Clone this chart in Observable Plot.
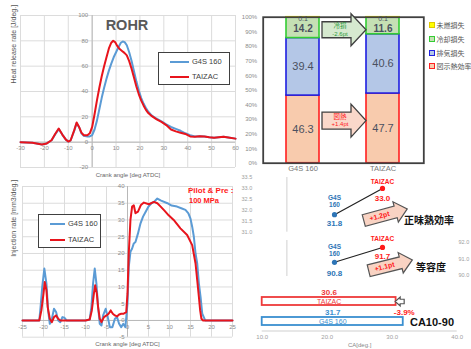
<!DOCTYPE html>
<html><head><meta charset="utf-8">
<script src="https://cdn.jsdelivr.net/npm/d3@7"></script>
<script src="https://cdn.jsdelivr.net/npm/@observablehq/plot@0.6"></script>
<style>
body{margin:0;background:#fff;font-family:"Liberation Sans",Arial,"Noto Sans CJK JP",sans-serif;}
#root{position:relative;width:471px;height:349px;overflow:hidden;background:#fff;}
svg{overflow:visible}
.lbl{position:absolute;white-space:nowrap;line-height:1;}
.c{transform:translate(-50%,-50%);}
.lg{position:absolute;border:1.5px solid #404040;background:#fff;box-sizing:border-box;}
.sw{position:absolute;height:2px;}
.lt{position:absolute;font-size:7.5px;color:#404040;line-height:1;transform:translateY(-50%);}
.bl{position:absolute;font-size:7px;color:#555;line-height:1;transform:translateY(-50%);white-space:nowrap;}
.bm{position:absolute;width:4px;height:4px;border:1px solid;transform:translate(-50%,-50%);}
</style></head><body><div id="root"></div>
<script>
// ---------- DATA ----------
const seriesNames = ["G4S 160", "TAIZAC"];

// Rate of heat release [J/deg.]
const rohrAngleG4S = [-30,-25,-21,-19,-17,-15.5,-14,-12.5,-11,-10,-9,-7.5,-6.5,-5.5,-4.5,-3.5,-2,-1,0,1,2,3,4,5,6,7,8,9,10,11,12,12.8,13.6,14.5,15.5,16.5,17.5,18.5,19.5,20.5,21.5,22.5,23.5,25,27,29,31,33,35,37,39,41,43,45,47,49,51,53,55,57,60];
const rohrG4S = [0,-0.5,-1.8,-1,1.5,6,10.3,6,2,0.5,1.5,9,15,12,7,5,4.5,4.5,5.5,10,17,26,35,43,50,56.5,62,67,71,75,78.5,79.5,79,76.5,71,64,56,48,41,35,30.5,27,24,21,18.5,16.5,14,12,10.5,9,7,5.5,4.5,4.6,4.5,3.8,3.4,3.8,4.2,3.6,2.8];
const rohrAngleTaizac = [-30,-25,-21,-19,-17,-15.5,-14,-12.5,-11,-10,-9,-7.5,-6.5,-5.5,-4.5,-3.5,-2,-1,0,1,2,3,4,5,6,7,8,8.8,9.6,10.5,11.5,12.5,13.5,14.5,15.5,16.5,17.5,18.5,19.5,20.5,21.5,22.5,23.5,25,27,29,31,33,35,37,39,41,43,45,47,49,51,53,55,57,60];
const rohrTaizac = [0,-0.5,-1.8,-1,1.5,6.5,10.8,6,2,0.5,1.5,9.5,15.5,12,7.5,5.5,5.5,7,12,22,33,43,52,60,67,74,78.5,80,79,76,73.5,72,70.5,68.5,64,58,51,44,38,33,29,25.5,23,20.5,18,16,13.5,10,8.5,7.5,6.5,4.5,4.3,4.6,4.5,3.8,3.4,3.8,4.2,3.6,2.8];
const rohrXTicks = [-30,-20,-10,0,10,20,30,40,50,60];
const rohrYTicks = [-20,0,20,40,60,80,100];

// Injection rate [mm3/deg.]
const injAngleG4S = [-25,-21,-20.7,-20.3,-19.8,-19.3,-18.9,-18.5,-18,-17.5,-17,-16.5,-16,-15.5,-15,-14.5,-14,-12,-10,-9,-8.6,-8.2,-7.8,-7.4,-7,-6.6,-6.2,-5.8,-5.2,-4.7,-4.2,-3.6,-3,-2.5,-2,-1.5,-1,-0.5,0,0.3,0.7,1.1,1.5,1.9,2.5,3.1,3.7,4.3,5,5.7,6.3,7.1,8,9.5,10.5,11.8,12.8,13.8,14.5,15,15.4,15.8,16.2,16.6,17,17.4,17.8,18.5,25];
const injG4S = [0,0,4,10,15.5,11,3,-1,0.5,3.5,2.5,0,-0.5,1,0.8,0,0,0,0,0.3,4,11,15.5,11,4,-1,-1.5,1.5,3.5,1,-2,-2,0.5,1,-1,-2,-1,-2,5,16,20.5,21.5,23,23.4,26,29,31,32.4,34,35,35.4,36.4,35.8,35,34.3,34,33.5,33,32,30.4,28,25,20,17,11,7,2,0,0];
const injAngleTaizac = [-25,-21,-20.5,-20,-19.7,-19.3,-19,-18.5,-18,-17.5,-17,-16.5,-16,-15,-14,-12,-10,-9,-8.5,-8,-7.7,-7.3,-7,-6.6,-6.2,-5.6,-5,-4.5,-4,-3.5,-3,-2.5,-2,-1.5,-1,-0.3,0,0.3,0.7,1.1,1.5,1.9,2.5,3.2,3.9,5.1,6.3,7.1,7.9,8.8,9.8,11,12.6,14.2,15.4,16.2,16.6,17,17.3,17.6,18,25];
const injTaizac = [0,0,3,8,11.5,9,4,0.5,-0.5,1,1.5,0.5,0,0,0,0,0,0.3,3,8,10.5,8,4,0.5,-0.5,1,1.5,2,3,2,1.5,1.2,1.8,2,2,2.5,8,20,30,34,34.4,32,32.5,34.5,35.2,34.7,35.4,35,34,32.8,31.4,30,27.5,25.5,22.5,17,12,7,3,0.5,0,0];
const injXTicks = [-25,-20,-15,-10,-5,0,5,10,15,20,25];
const injYTicks = [-5,0,5,10,15,20,25,30,35,40];

// Energy balance [%]
const barCategories = ["G4S 160", "TAIZAC"];
const barComponents = ["図示熱効率", "排気損失", "冷却損失", "未燃損失"];
const barG4S = [46.3, 39.4, 14.2, 0.1];
const barTaizac = [47.7, 40.6, 11.6, 0.1];
const pctTicks = [0,10,20,30,40,50,60,70,80,90,100];
const barNotes = [
  {y: 91.4, top: "冷損", bottom: "-2.6pt", kind: "cool"},
  {y: 29.2, top: "図熱", bottom: "+1.4pt", kind: "ind"}
];

// Brake thermal efficiency [%]
const effCategories = ["G4S 160", "TAIZAC"];
const effValues = [31.8, 33.0];
const effTicks = [31.0, 31.5, 32.0, 32.5, 33.0, 33.5];
const effNote = "+1.2pt";

// Degree of constant volume [%]
const cvValues = [90.8, 91.7];
const cvTicks = [90, 91, 92];
const cvNote = "+1.1pt";

// CA10-90 [deg.]
const caCategories = ["TAIZAC", "G4S 160"];
const caValues = [30.6, 31.7];
const caTicks = [10, 20, 30, 40];
const caNote = "-3.9%";

// ---------- HELPERS ----------
const FONT = '"Liberation Sans", Arial, "Noto Sans CJK JP", sans-serif';
const root = document.getElementById("root");
const lineColors = ["#5b9bd5", "#e8141c"];
const BLUE = "#2e75b6", RED = "#ff1a1a";
const GRID = "#dcdcdc";
const tickStyle = {fontSize: 6, fill: "#8c8c8c", fontFamily: FONT};
const baseStyle = {fontFamily: FONT, background: "transparent", overflow: "visible"};

function place(el, left, top) {
  el.style.position = "absolute"; el.style.left = left + "px"; el.style.top = top + "px";
  root.appendChild(el);
}
function label(text, x, y, css, center = true) {
  const d = document.createElement("div");
  d.className = "lbl" + (center ? " c" : "");
  d.textContent = text;
  d.style.cssText += css;
  d.style.left = x + "px"; d.style.top = y + "px";
  root.appendChild(d);
  return d;
}
function blockArrow(len, bodyH, headH, headLen, angleDeg = 0, dir = 1) {
  const a = angleDeg * Math.PI / 180, c = Math.cos(a), s = Math.sin(a);
  const pts = [[-len/2,-bodyH/2],[len/2-headLen,-bodyH/2],[len/2-headLen,-headH/2],[len/2,0],
               [len/2-headLen,headH/2],[len/2-headLen,bodyH/2],[-len/2,bodyH/2]];
  return {draw(ctx) {
    pts.forEach(([x, y], i) => {
      x *= dir;
      const X = x * c - y * s, Y = x * s + y * c;
      if (i) ctx.lineTo(X, Y); else ctx.moveTo(X, Y);
    });
    ctx.closePath();
  }};
}
const toRows = (name, xs, ys) => xs.map((a, i) => ({series: name, angle: a, value: ys[i]}));

// ---------- ROHR ----------
const rohrData = [...toRows(seriesNames[0], rohrAngleG4S, rohrG4S), ...toRows(seriesNames[1], rohrAngleTaizac, rohrTaizac)];
place(Plot.plot({
  width: 240, height: 180, marginLeft: 20, marginRight: 5, marginTop: 15, marginBottom: 13,
  style: baseStyle,
  x: {domain: [-30, 60], axis: null}, y: {domain: [-20, 100], axis: null},
  color: {domain: seriesNames, range: lineColors},
  marks: [
    Plot.ruleX(rohrXTicks, {stroke: GRID}),
    Plot.ruleY(rohrYTicks, {stroke: GRID}),
    Plot.ruleX([0], {stroke: "#b8b8b8"}),
    Plot.ruleY([0], {stroke: "#b8b8b8"}),
    Plot.text(rohrXTicks, {x: d => d, y: 0, dy: 5.5, text: d => String(d), ...tickStyle}),
    Plot.text(rohrYTicks, {x: 0, y: d => d, dx: -4, textAnchor: "end", text: d => String(d), ...tickStyle}),
    Plot.line(rohrData, {x: "angle", y: "value", z: "series", stroke: "series", strokeWidth: 2}),
    Plot.text(["Crank angle [deg ATDC]"], {frameAnchor: "bottom", dy: 9, text: d => d, fontSize: 6, fill: "#666"}),
    Plot.text(["Heat release rate [J/deg.]"], {frameAnchor: "left", dx: -7, dy: -8, rotate: -90, text: d => d, fontSize: 7, fill: "#555"})
  ]
}), 0, 0);

// ---------- Injection rate ----------
const injData = [...toRows(seriesNames[0], injAngleG4S, injG4S), ...toRows(seriesNames[1], injAngleTaizac, injTaizac)];
place(Plot.plot({
  width: 240, height: 177, marginLeft: 22, marginRight: 8, marginTop: 14, marginBottom: 12.3,
  style: baseStyle,
  x: {domain: [-25, 25], axis: null}, y: {domain: [-5, 40], axis: null},
  color: {domain: seriesNames, range: lineColors},
  marks: [
    Plot.ruleX(injXTicks, {stroke: GRID}),
    Plot.ruleY(injYTicks, {stroke: GRID}),
    Plot.ruleX([0], {stroke: "#b8b8b8"}),
    Plot.ruleY([0], {stroke: "#b8b8b8"}),
    Plot.text(injXTicks, {x: d => d, y: 0, dy: 6.5, text: d => String(d), ...tickStyle}),
    Plot.text(injYTicks, {x: 0, y: d => d, dx: -3, textAnchor: "end", text: d => String(d), ...tickStyle}),
    Plot.line(injData, {x: "angle", y: "value", z: "series", stroke: "series", strokeWidth: 2}),
    Plot.text(["Crank angle [deg ATDC]"], {frameAnchor: "bottom", dy: 8.5, text: d => d, fontSize: 6, fill: "#666"}),
    Plot.text(["Injection rate [mm3/deg.]"], {frameAnchor: "left", dx: -9, dy: -5, rotate: -90, text: d => d, fontSize: 7, fill: "#555"})
  ]
}), 0, 172);

// ---------- Energy balance stacked bars ----------
const compFill = {"図示熱効率": "#f8cbad", "排気損失": "#b4c7e7", "冷却損失": "#c5e0b4", "未燃損失": "#ffff00"};
const compStroke = {"図示熱効率": "#ff2020", "排気損失": "#1f1fe0", "冷却損失": "#33cc33", "未燃損失": "#f2e600"};
const barTable = [];
barCategories.forEach((c, ci) => {
  let acc = 0;
  barComponents.forEach((k, ki) => {
    const v = (ci ? barTaizac : barG4S)[ki];
    barTable.push({cat: c, comp: k, value: v, mid: acc + v / 2});
    acc += v;
  });
});
const mainLabels = barTable.filter(d => d.comp === "図示熱効率" || d.comp === "排気損失");
const coolLabels = barTable.filter(d => d.comp === "冷却損失");
const topLabels = barTable.filter(d => d.comp === "未燃損失");
place(Plot.plot({
  width: 231, height: 178, marginLeft: 22.7, marginRight: 47.7, marginTop: 16.7, marginBottom: 15.3,
  style: baseStyle,
  x: {type: "band", domain: barCategories, paddingInner: 0.585, paddingOuter: 0.29, axis: null},
  y: {domain: [0, 100], axis: null},
  color: {type: "identity"},
  marks: [
    Plot.barY(barTable, {x: "cat", y: "value", z: "comp", fill: d => compFill[d.comp], stroke: d => compStroke[d.comp], strokeWidth: 1.6}),
    Plot.frame({stroke: "#404040", strokeWidth: 1.8}),
    Plot.text(pctTicks, {frameAnchor: "left", y: d => d, dx: -6, textAnchor: "end", text: d => d + "%", fontSize: 6, fill: "#8c8c8c"}),
    Plot.text(barCategories, {x: d => d, frameAnchor: "bottom", dy: 7.5, text: d => d, fontSize: 7.5, fill: "#777"}),
    Plot.text(mainLabels, {x: "cat", y: "mid", text: d => d.value.toFixed(1),
      fontSize: 11, fontWeight: d => d.comp === "排気損失" ? "normal" : "bold", fill: "#4a5060"}),
    Plot.text(coolLabels, {x: "cat", y: () => 100, dy: 11.6, text: d => d.value.toFixed(1), fontSize: 10, fontWeight: "bold", fill: "#4a5060"}),
    Plot.text(topLabels, {x: "cat", y: "mid", dy: 1, text: d => d.value.toFixed(1), fontSize: 7, fill: "#4a5060"}),
    Plot.dot(barNotes.filter(d => d.kind === "cool"), {x: () => barCategories[0], y: "y", dx: 41, symbol: blockArrow(44, 16, 32, 15), fill: "#d6e9cf", stroke: "#404040", strokeWidth: 1.3}),
    Plot.dot(barNotes.filter(d => d.kind === "ind"), {x: () => barCategories[0], y: "y", dx: 41, symbol: blockArrow(44, 17, 33, 15), fill: "#fad8ca", stroke: "#404040", strokeWidth: 1.3}),
    Plot.text(barNotes, {x: () => barCategories[0], y: "y", dx: 37, dy: -4, text: "top", fontSize: 6.5, fill: d => d.kind === "cool" ? "#2a9a3a" : RED}),
    Plot.text(barNotes, {x: () => barCategories[0], y: "y", dx: 37, dy: 4, text: "bottom", fontSize: 6, fill: d => d.kind === "cool" ? "#2a9a3a" : RED})
  ]
}), 240, 0);

// ---------- Brake thermal efficiency ----------
const effData = effCategories.map((c, i) => ({cat: c, value: effValues[i], color: i ? RED : BLUE}));
const ptStyle = {x: "cat", y: "value", fontWeight: "bold"};
place(Plot.plot({
  width: 231, height: 62, marginLeft: 21.7, marginRight: 0, marginTop: 5, marginBottom: 2.3,
  style: baseStyle,
  x: {type: "point", domain: effCategories, range: [69.3, 166], axis: null},
  y: {domain: [31, 33.5], range: [59.7, 5], axis: null},
  color: {type: "identity"},
  marks: [
    Plot.ruleX([effCategories[0]], {dx: -47.6, stroke: "#d0d0d0"}),
    Plot.text(effTicks, {frameAnchor: "left", y: d => d, dx: -10, textAnchor: "end", text: d => d.toFixed(1), fontSize: 5.5, fill: "#a0a0a0"}),
    Plot.line(effData, {x: "cat", y: "value", stroke: "#222", strokeWidth: 1.2}),
    Plot.dot(effData, {x: "cat", y: "value", r: 2.6, fill: "color"}),
    Plot.text([effData[0]], {...ptStyle, dy: -17, text: d => d.cat.split(" ")[0], fontSize: 6.5, fill: BLUE}),
    Plot.text([effData[0]], {...ptStyle, dy: -9.5, text: d => d.cat.split(" ")[1], fontSize: 6.5, fill: BLUE}),
    Plot.text([effData[0]], {...ptStyle, dy: 8.5, text: d => d.value.toFixed(1), fontSize: 8, fill: BLUE}),
    Plot.text([effData[1]], {...ptStyle, dy: -7, text: d => d.cat, fontSize: 6.5, fill: RED}),
    Plot.text([effData[1]], {...ptStyle, dy: 10, text: d => d.value.toFixed(1), fontSize: 8, fill: RED}),
    Plot.dot([effData[0]], {x: "cat", y: "value", dx: 51, symbol: blockArrow(45, 12, 21, 12, -15), fill: "#f9d3c3", stroke: "#555", strokeWidth: 1.2}),
    Plot.text([effData[0]], {x: "cat", y: "value", dx: 45, dy: 1.5, rotate: -15, text: () => effNote, fontSize: 7, fontWeight: "bold", fill: RED})
  ]
}), 240, 172);

// ---------- Degree of constant volume ----------
const cvData = effCategories.map((c, i) => ({cat: c, value: cvValues[i], color: i ? RED : BLUE}));
place(Plot.plot({
  width: 231, height: 42, marginLeft: 21.7, marginRight: 9, marginTop: 4, marginBottom: 2,
  style: baseStyle,
  x: {type: "point", domain: effCategories, range: [69.3, 166], axis: null},
  y: {domain: [90, 92], range: [39, 6], axis: null},
  color: {type: "identity"},
  marks: [
    Plot.ruleX([effCategories[0]], {dx: -47.6, stroke: "#d0d0d0"}),
    Plot.text(cvTicks, {frameAnchor: "right", y: d => d, dx: -4, textAnchor: "start", text: d => d.toFixed(1), fontSize: 5.5, fill: "#a0a0a0"}),
    Plot.line(cvData, {x: "cat", y: "value", stroke: "#222", strokeWidth: 1.2}),
    Plot.dot(cvData, {x: "cat", y: "value", r: 2.6, fill: "color"}),
    Plot.text([cvData[0]], {...ptStyle, dy: -15.5, text: d => d.cat.split(" ")[0], fontSize: 6.5, fill: BLUE}),
    Plot.text([cvData[0]], {...ptStyle, dy: -8, text: d => d.cat.split(" ")[1], fontSize: 6.5, fill: BLUE}),
    Plot.text([cvData[0]], {...ptStyle, dy: 11, text: d => d.value.toFixed(1), fontSize: 8, fill: BLUE}),
    Plot.text([cvData[1]], {...ptStyle, dy: -8.5, text: d => d.cat, fontSize: 6.5, fill: RED}),
    Plot.text([cvData[1]], {...ptStyle, dy: 9, text: d => d.value.toFixed(1), fontSize: 8, fill: RED}),
    Plot.dot([cvData[0]], {x: "cat", y: "value", dx: 56, dy: 3, symbol: blockArrow(45, 12, 21, 12, -14), fill: "#f9d3c3", stroke: "#555", strokeWidth: 1.2}),
    Plot.text([cvData[0]], {x: "cat", y: "value", dx: 50, dy: 4.5, rotate: -14, text: () => cvNote, fontSize: 7, fontWeight: "bold", fill: RED})
  ]
}), 240, 236);

// ---------- CA10-90 ----------
const caData = caCategories.map((c, i) => ({cat: c, value: caValues[i], color: i ? "#3a8fd0" : "#ee3a3a"}));
const caMin = caTicks[0], caMax = caTicks[caTicks.length - 1];
place(Plot.plot({
  width: 231, height: 67, marginLeft: 21.7, marginRight: 14.3, marginTop: 4, marginBottom: 19,
  style: baseStyle,
  x: {domain: [caMin, caMax], axis: null},
  y: {type: "band", domain: caCategories, paddingInner: 0.62, paddingOuter: 0.41, align: 0.65, axis: null},
  color: {type: "identity"},
  marks: [
    Plot.ruleY([caCategories[1]], {dy: 9.5, x1: caMin, x2: caMax, stroke: "#cfcfcf"}),
    Plot.text(caTicks, {x: d => d, frameAnchor: "bottom", dy: 8, text: d => d.toFixed(1), fontSize: 6, fill: "#a0a0a0"}),
    Plot.text(["CA[deg.]"], {frameAnchor: "bottom", dy: 16.5, text: d => d, fontSize: 6, fill: "#888"}),
    Plot.barX(caData, {x1: () => caMin, x2: "value", y: "cat", fill: "#fff", stroke: "color", strokeWidth: 1.8}),
    Plot.text(caData, {x: d => (caMin + d.value) / 2, y: "cat", text: "cat", fontSize: 7, fill: "color"}),
    Plot.text(caData, {x: d => (caMin + d.value) / 2, y: "cat", dy: -9.5, text: d => d.value.toFixed(1), fontSize: 8, fontWeight: "bold", fill: "color"}),
    Plot.dot([caData[0]], {x: () => (caValues[0] + caValues[1]) / 2, y: "cat", symbol: blockArrow(9, 4.5, 9, 5, 0, -1), fill: "#fff", stroke: "#555", strokeWidth: 1.2}),
    Plot.text([caData[1]], {x: "value", y: "cat", dy: -8.8, dx: 1, text: () => caNote, fontSize: 8, fontWeight: "bold", fill: RED})
  ]
}), 240, 282);

// ---------- HTML annotations / legends ----------
label("ROHR", 127, 25, "font-size:14.5px;font-weight:bold;color:#595959;");
label("Pilot & Pre :", 188, 191, "font-size:8px;font-weight:bold;color:#ff1a1a;", false).style.transform = "translateY(-50%)";
label("100 MPa", 189, 200.5, "font-size:7.5px;font-weight:bold;color:#ff1a1a;", false).style.transform = "translateY(-50%)";
label("正味熱効率", 429, 220.5, "font-size:10px;font-weight:bold;color:#111;");
label("等容度", 431, 268, "font-size:10px;font-weight:bold;color:#111;");
label("CA10-90", 432, 321.5, "font-size:11px;font-weight:bold;color:#111;");

function lineLegend(left, top, w, h, rows) {
  const box = document.createElement("div");
  box.className = "lg";
  box.style.left = left + "px"; box.style.top = top + "px";
  box.style.width = w + "px"; box.style.height = h + "px";
  rows.forEach(r => {
    const s = document.createElement("div"); s.className = "sw";
    s.style.left = r.sx + "px"; s.style.width = r.sw + "px"; s.style.top = (r.y - 1) + "px"; s.style.background = r.color;
    const t = document.createElement("div"); t.className = "lt";
    t.style.left = r.tx + "px"; t.style.top = r.y + "px"; t.textContent = r.name;
    box.appendChild(s); box.appendChild(t);
  });
  root.appendChild(box);
}
lineLegend(158, 52, 72, 33, seriesNames.map((n, i) => ({name: n, color: lineColors[i], y: i ? 24 : 9, sx: 11, sw: 19, tx: 33})));
lineLegend(38, 214, 63, 34, seriesNames.map((n, i) => ({name: n, color: lineColors[i], y: i ? 25 : 8.5, sx: 11, sw: 15, tx: 29})));

const legendOrder = ["未燃損失", "冷却損失", "排気損失", "図示熱効率"];
legendOrder.forEach((k, i) => {
  const y = [25, 39.3, 52.7, 66][i];
  const m = document.createElement("div"); m.className = "bm";
  m.style.left = "432px"; m.style.top = y + "px";
  m.style.background = compFill[k]; m.style.borderColor = k === "未燃損失" ? "#e0c800" : compStroke[k];
  root.appendChild(m);
  const t = document.createElement("div"); t.className = "bl";
  t.style.left = "436.5px"; t.style.top = y + "px"; t.textContent = k;
  root.appendChild(t);
});
</script>
</body></html>
